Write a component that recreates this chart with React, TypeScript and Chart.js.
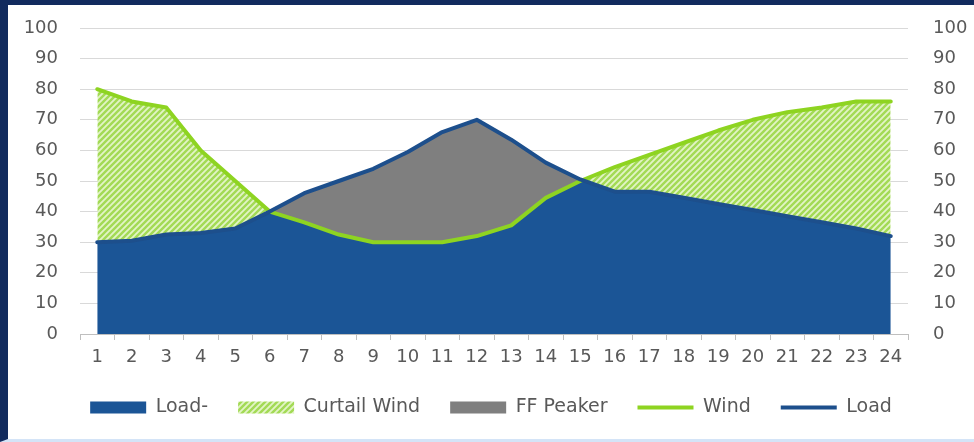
import React, { useEffect, useRef } from 'react';
import { Chart, registerables } from 'chart.js';

Chart.register(...registerables);

const hours = ['1', '2', '3', '4', '5', '6', '7', '8', '9', '10', '11', '12', '13', '14', '15', '16', '17', '18', '19', '20', '21', '22', '23', '24'];
const load = [30, 30.5, 32.5, 33, 34.5, 40, 46, 50, 54, 59.5, 66, 70, 63.5, 56, 50.5, 46.5, 46.5, 44.5, 42.5, 40.5, 38.5, 36.5, 34.5, 32];
const wind = [80, 76, 74, 60, 50, 40, 36.5, 32.5, 30, 30, 30, 32, 35.5, 44.5, 50, 54.5, 58.5, 62.5, 66.5, 70, 72.5, 74, 76, 76];
const yMin = 0;
const yMax = 100;
const yStep = 10;

const FONT = "'DejaVu Sans', sans-serif";
const TEXT = '#595959';
const BLUE_FILL = '#1B5596';
const LOAD_LINE = '#1D4F8C';
const WIND_LINE = '#8ED421';
const GRAY = '#7F7F7F';

function makeHatch(ctx: CanvasRenderingContext2D) {
  const n = 6;
  const c = document.createElement('canvas');
  c.width = n;
  c.height = n;
  const g = c.getContext('2d')!;
  g.fillStyle = '#e2f4c6';
  g.fillRect(0, 0, n, n);
  g.strokeStyle = '#a3da55';
  g.lineWidth = 2.4;
  g.beginPath();
  g.moveTo(0, n); g.lineTo(n, 0);
  g.moveTo(-1, 1); g.lineTo(1, -1);
  g.moveTo(n - 1, n + 1); g.lineTo(n + 1, n - 1);
  g.stroke();
  return ctx.createPattern(c, 'repeat')!;
}

export default function App() {
  const ref = useRef<HTMLCanvasElement | null>(null);
  useEffect(() => {
    document.body.style.margin = '0';
    const canvas = ref.current!;
    const ctx = canvas.getContext('2d')!;
    const hatch = makeHatch(ctx);
    const chart = new Chart(canvas, {
      type: 'line',
      data: {
        labels: hours,
        datasets: [
          {
            label: 'Load-', data: load, order: 5, fill: 'origin',
            backgroundColor: BLUE_FILL, borderColor: 'rgba(0,0,0,0)', borderWidth: 0,
            pointRadius: 0, pointStyle: 'rect', tension: 0,
          },
          {
            label: 'Curtail Wind', data: wind, order: 4,
            fill: { target: 0, above: hatch, below: 'rgba(0,0,0,0)' },
            backgroundColor: hatch, borderColor: 'rgba(0,0,0,0)', borderWidth: 0,
            pointRadius: 0, pointStyle: 'rect', tension: 0,
          },
          {
            label: 'FF Peaker', data: load, order: 3,
            fill: { target: 1, above: GRAY, below: 'rgba(0,0,0,0)' },
            backgroundColor: GRAY, borderColor: 'rgba(0,0,0,0)', borderWidth: 0,
            pointRadius: 0, pointStyle: 'rect', tension: 0,
          },
          {
            label: 'Wind', data: wind, order: 2, fill: false,
            backgroundColor: WIND_LINE, borderColor: WIND_LINE, borderWidth: 4,
            borderCapStyle: 'round', borderJoinStyle: 'round',
            pointRadius: 0, pointStyle: 'line', tension: 0,
          },
          {
            label: 'Load', data: load, order: 1, fill: false,
            backgroundColor: LOAD_LINE, borderColor: LOAD_LINE, borderWidth: 4,
            borderCapStyle: 'round', borderJoinStyle: 'round',
            pointRadius: 0, pointStyle: 'line', tension: 0,
          },
        ],
      },
      options: {
        responsive: false,
        animation: false,
        events: [],
        layout: { padding: { left: 0, right: 0, top: 23, bottom: 12 } },
        plugins: {
          tooltip: { enabled: false },
          legend: {
            position: 'bottom',
            labels: {
              usePointStyle: true,
              pointStyleWidth: 56,
              boxHeight: 12,
              padding: 30,
              color: TEXT,
              font: { family: FONT, size: 19 },
              sort: (a: any, b: any) => a.datasetIndex - b.datasetIndex,
            },
          },
        },
        scales: {
          x: {
            type: 'category',
            offset: true,
            grid: { offset: true, drawOnChartArea: false, drawTicks: true, tickLength: 6, color: '#bfbfbf' },
            border: { display: true, color: '#bfbfbf', width: 1 },
            ticks: { color: TEXT, font: { family: FONT, size: 18 }, maxRotation: 0, autoSkip: false, padding: 7 },
            afterFit: (s: any) => { s.height = 34; },
          },
          y: {
            position: 'left',
            min: yMin, max: yMax,
            ticks: { stepSize: yStep, color: TEXT, font: { family: FONT, size: 18 }, padding: 22 },
            grid: { color: '#d9d9d9', drawTicks: false, lineWidth: 1 },
            border: { display: false },
            afterFit: (s: any) => { s.width = 72; s.paddingTop = 0; s.paddingBottom = 0; },
          },
          y2: {
            position: 'right',
            min: yMin, max: yMax,
            ticks: { stepSize: yStep, color: TEXT, font: { family: FONT, size: 18 }, padding: 25 },
            grid: { drawOnChartArea: false, drawTicks: false },
            border: { display: false },
            afterFit: (s: any) => { s.width = 66; s.paddingTop = 0; s.paddingBottom = 0; },
          },
        },
      },
    } as any);
    return () => chart.destroy();
  }, []);
  return (
    <div
      style={{
        position: 'relative', width: 974, height: 442, boxSizing: 'border-box',
        borderLeft: '8px solid #122b5e', borderTop: '5px solid #122b5e',
        borderBottom: '3px solid #d4e4f7', background: '#ffffff',
      }}
    >
      <canvas ref={ref} width={966} height={434} style={{ display: 'block', width: 966, height: 434 }} />
    </div>
  );
}
